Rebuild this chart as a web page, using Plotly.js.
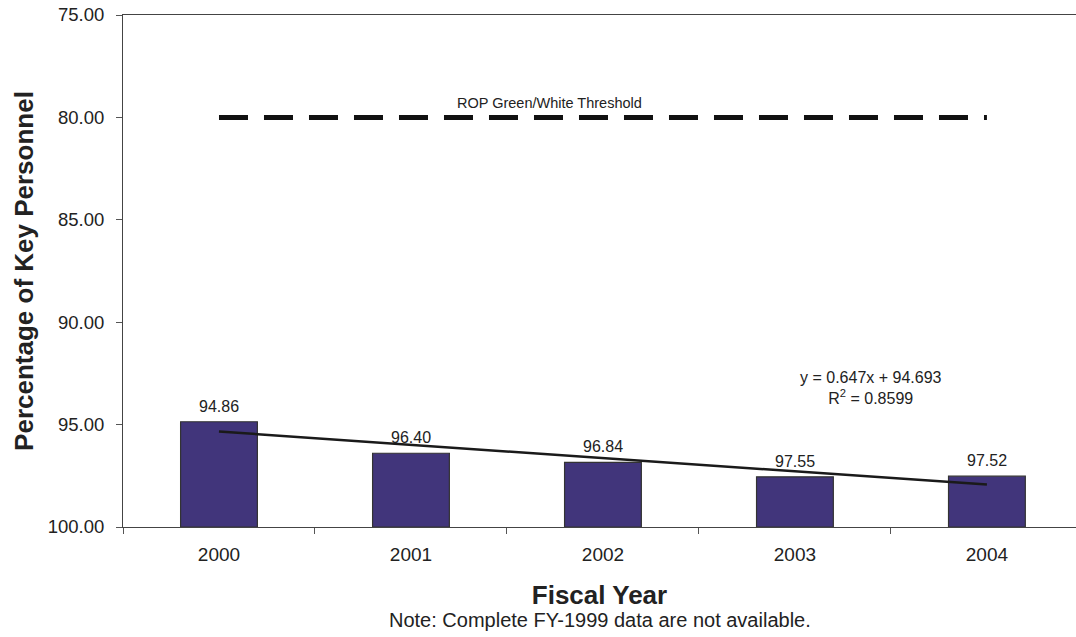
<!DOCTYPE html>
<html><head><meta charset="utf-8">
<script src="https://cdn.plot.ly/plotly-3.0.1.min.js"></script>
<style>body{margin:0}#chart{width:1076px;height:637px}</style>
</head><body><div id="chart"></div>
<script>
const years = ['2000','2001','2002','2003','2004'];
const values = [94.86, 96.40, 96.84, 97.55, 97.52];
const labels = ['94.86','96.40','96.84','97.55','97.52'];
const baseline = 100;
const thresholdYears = ['2000','2004'];
const thresholdValue = [80, 80];
const trendYears = ['2000','2004'];
const trendValues = [95.34, 97.93];

const font = 'Liberation Sans, Arial, sans-serif';
const traces = [
  {type:'bar', x:years, y:values.map(v=>baseline-v), base:values, width:0.4,
   marker:{color:'#41357b', line:{color:'#333333', width:1.2}}, hoverinfo:'skip'},
  {type:'scatter', mode:'lines', x:thresholdYears, y:thresholdValue,
   line:{color:'#111', width:5, dash:'29px,16px'}},
  {type:'scatter', mode:'lines', x:trendYears, y:trendValues,
   line:{color:'#1a1a1a', width:2.5}}
];
// category axis annotations use the category index
const labelAnns = years.map((yr,i)=>({xref:'x', yref:'y', x:i, y:values[i], yanchor:'bottom', yshift:5,
  showarrow:false, text:labels[i], font:{size:16, family:font, color:'#222'}}));
const layout = {
  width:1076, height:637, showlegend:false,
  paper_bgcolor:'#fff', plot_bgcolor:'#fff',
  margin:{l:123, r:0, t:15, b:110},
  font:{family:font, color:'#222'},
  xaxis:{type:'category', range:[-0.5, 4.464], tickson:'boundaries', ticks:'outside', ticklen:6,
    tickcolor:'#555', showline:true, linecolor:'#444', linewidth:1, mirror:true,
    showgrid:false, zeroline:false, tickfont:{size:19, family:font, color:'#222'}, ticklabelstandoff:10,
    title:{text:'Fiscal Year', font:{size:26, family:font, color:'#222', weight:'bold'}, standoff:22}},
  yaxis:{range:[100,75], tickvals:[75,80,85,90,95,100], ticktext:['75.00','80.00','85.00','90.00','95.00','100.00'],
    ticks:'outside', ticklen:6, tickcolor:'#555', showline:true, linecolor:'#444', linewidth:1,
    showgrid:false, zeroline:false, tickfont:{size:18.5, family:font, color:'#222'}, ticklabelstandoff:8,
    title:{text:'Percentage of Key Personnel', font:{size:26, family:font, color:'#222', weight:'bold'}, standoff:6}},
  annotations:labelAnns.concat([
    {xref:'paper', yref:'paper', x:0.5, y:-0.1816, xanchor:'center', yanchor:'middle', showarrow:false,
     text:'Note: Complete FY-1999 data are not available.', font:{size:20, family:font, color:'#222'}},
    {xref:'x', yref:'y', x:1.724, y:80, yshift:14, showarrow:false, text:'ROP Green/White Threshold',
     font:{size:14.5, family:font, color:'#222'}},
    {xref:'x', yref:'y', x:3.396, y:93.19, showarrow:false, align:'center',
     text:'y = 0.647x + 94.693<br>R<sup>2</sup> = 0.8599', font:{size:16, family:font, color:'#222'}}
  ])
};
Plotly.newPlot('chart', traces, layout, {displayModeBar:false});
</script></body></html>
